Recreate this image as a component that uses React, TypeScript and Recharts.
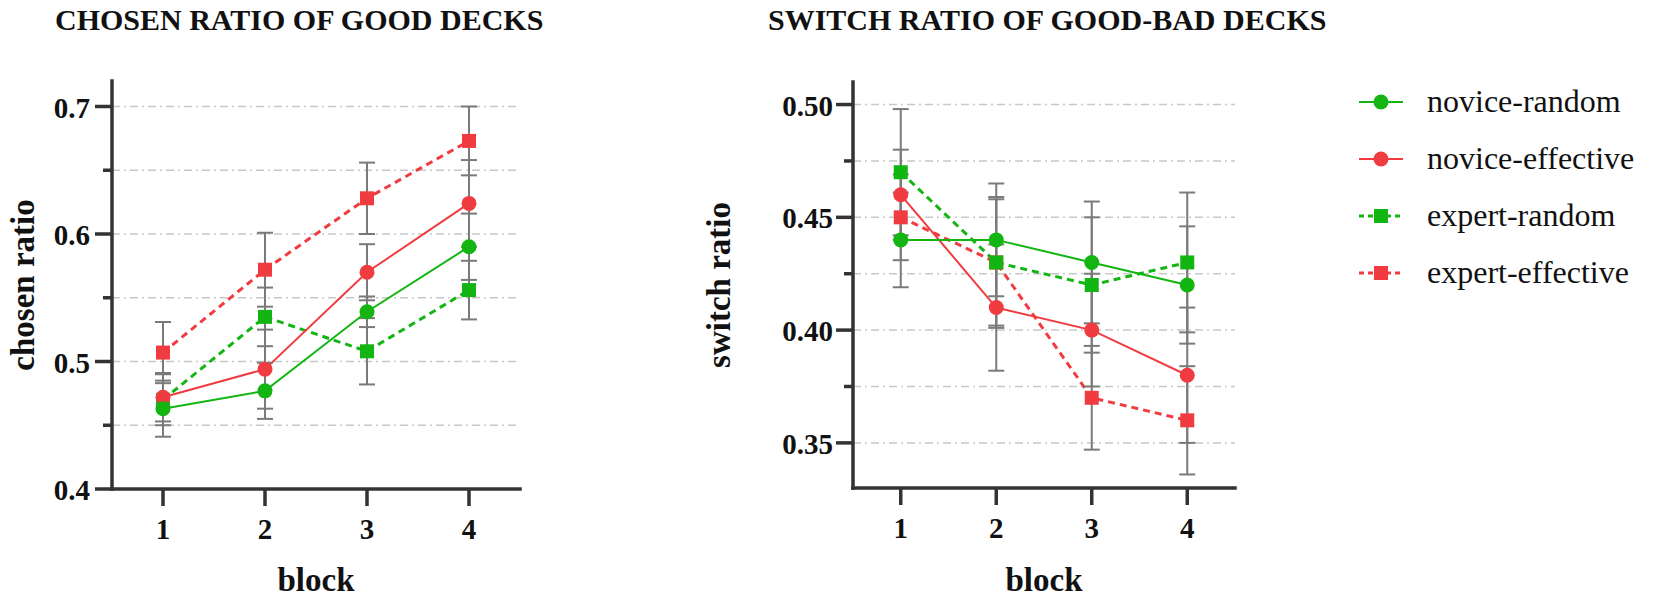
import { CartesianGrid, ErrorBar, Legend, Line, LineChart, XAxis, YAxis } from 'recharts'

const blocks = [1, 2, 3, 4]

// chosen ratio of good decks
const noviceRandomChosen = [0.463, 0.477, 0.539, 0.59]
const noviceEffectiveChosen = [0.472, 0.494, 0.57, 0.624]
const expertRandomChosen = [0.47, 0.535, 0.508, 0.556]
const expertEffectiveChosen = [0.507, 0.572, 0.628, 0.673]
const noviceRandomChosenErr = [0.022, 0.022, 0.012, 0.026]
const noviceEffectiveChosenErr = [0.019, 0.031, 0.022, 0.034]
const expertRandomChosenErr = [0.02, 0.023, 0.026, 0.023]
const expertEffectiveChosenErr = [0.024, 0.029, 0.028, 0.027]

// switch ratio of good-bad decks
const noviceRandomSwitch = [0.44, 0.44, 0.43, 0.42]
const noviceEffectiveSwitch = [0.46, 0.41, 0.4, 0.38]
const expertRandomSwitch = [0.47, 0.43, 0.42, 0.43]
const expertEffectiveSwitch = [0.45, 0.43, 0.37, 0.36]
const noviceRandomSwitchErr = [0.021, 0.025, 0.027, 0.026]
const noviceEffectiveSwitchErr = [0.02, 0.028, 0.025, 0.03]
const expertRandomSwitchErr = [0.028, 0.029, 0.03, 0.031]
const expertEffectiveSwitchErr = [0.019, 0.028, 0.023, 0.024]

const chosenTicks = [0.4, 0.45, 0.5, 0.55, 0.6, 0.65, 0.7]
const chosenMajor = [0.4, 0.5, 0.6, 0.7]
const switchTicks = [0.35, 0.375, 0.4, 0.425, 0.45, 0.475, 0.5]
const switchMajor = [0.35, 0.4, 0.45, 0.5]

const GREEN = '#12b512'
const RED = '#f03c40'
const AXIS = '#333333'
const FONT = '"Liberation Serif", "Times New Roman", serif'

const series = [
  { key: 'noviceRandom', name: 'novice-random', color: GREEN, square: false },
  { key: 'noviceEffective', name: 'novice-effective', color: RED, square: false },
  { key: 'expertRandom', name: 'expert-random', color: GREEN, square: true },
  { key: 'expertEffective', name: 'expert-effective', color: RED, square: true },
]

const chosenRows = blocks.map((block, i) => ({
  block,
  noviceRandom: noviceRandomChosen[i],
  noviceRandomErr: noviceRandomChosenErr[i],
  noviceEffective: noviceEffectiveChosen[i],
  noviceEffectiveErr: noviceEffectiveChosenErr[i],
  expertRandom: expertRandomChosen[i],
  expertRandomErr: expertRandomChosenErr[i],
  expertEffective: expertEffectiveChosen[i],
  expertEffectiveErr: expertEffectiveChosenErr[i],
}))

const switchRows = blocks.map((block, i) => ({
  block,
  noviceRandom: noviceRandomSwitch[i],
  noviceRandomErr: noviceRandomSwitchErr[i],
  noviceEffective: noviceEffectiveSwitch[i],
  noviceEffectiveErr: noviceEffectiveSwitchErr[i],
  expertRandom: expertRandomSwitch[i],
  expertRandomErr: expertRandomSwitchErr[i],
  expertEffective: expertEffectiveSwitch[i],
  expertEffectiveErr: expertEffectiveSwitchErr[i],
}))

function isMajor(value: number, majors: number[]) {
  return majors.some((m) => Math.abs(m - value) < 1e-6)
}

function YTick(props: any) {
  const { x, y, payload, majors, digits, gap } = props
  const major = isMajor(payload.value, majors)
  return (
    <g>
      <line x1={x - (major ? 17 : 9)} x2={x} y1={y} y2={y} stroke={AXIS} strokeWidth={3.5} />
      {major && (
        <text x={x - gap} y={y + 11} textAnchor="end" fontFamily={FONT} fontWeight="bold" fontSize={29} fill="#111">
          {payload.value.toFixed(digits)}
        </text>
      )}
    </g>
  )
}

function XTick(props: any) {
  const { x, y, payload } = props
  return (
    <g>
      <line x1={x} x2={x} y1={y} y2={y + 17} stroke={AXIS} strokeWidth={3.5} />
      <text x={x} y={y + 50} textAnchor="middle" fontFamily={FONT} fontWeight="bold" fontSize={29} fill="#111">
        {payload.value}
      </text>
    </g>
  )
}

function AxisTitle({ tx, ty, caption, vertical }: any) {
  return (
    <text
      x={tx}
      y={ty}
      textAnchor="middle"
      transform={vertical ? `rotate(-90 ${tx} ${ty})` : undefined}
      fontFamily={FONT}
      fontWeight="bold"
      fontSize={33}
      fill="#111"
    >
      {caption}
    </text>
  )
}

function makeDot(color: string, square: boolean) {
  return (props: any) => {
    const { cx, cy, index } = props
    if (cx == null || cy == null) return <g key={`d-${index}`} />
    return square ? (
      <rect key={`d-${index}`} x={cx - 7} y={cy - 7} width={14} height={14} fill={color} />
    ) : (
      <circle key={`d-${index}`} cx={cx} cy={cy} r={7.5} fill={color} />
    )
  }
}

function renderLines() {
  // drawn in reverse so novice-random sits on top, as in the figure
  return [...series].reverse().map((s) => (
    <Line
      key={s.key}
      type="linear"
      dataKey={s.key}
      name={s.name}
      stroke={s.color}
      strokeWidth={s.square ? 3 : 2}
      strokeDasharray={s.square ? '7 5' : undefined}
      dot={makeDot(s.color, s.square)}
      activeDot={false}
      isAnimationActive={false}
    >
      <ErrorBar dataKey={`${s.key}Err`} width={8} stroke="#7a7a7a" strokeWidth={2} isAnimationActive={false} />
    </Line>
  ))
}

function LegendList() {
  return (
    <div style={{ fontFamily: FONT }}>
      {series.map((s) => (
        <div key={s.key} style={{ display: 'flex', alignItems: 'center', height: 57 }}>
          <svg width={44} height={20} style={{ marginRight: 24 }}>
            <line
              x1={0}
              x2={44}
              y1={10}
              y2={10}
              stroke={s.color}
              strokeWidth={s.square ? 3 : 2}
              strokeDasharray={s.square ? '5 4' : undefined}
            />
            {s.square ? (
              <rect x={15} y={3} width={14} height={14} fill={s.color} />
            ) : (
              <circle cx={22} cy={10} r={7.5} fill={s.color} />
            )}
          </svg>
          <span style={{ fontSize: 32, color: '#111', whiteSpace: 'nowrap' }}>{s.name}</span>
        </div>
      ))}
    </div>
  )
}

const titleStyle = {
  position: 'absolute' as const,
  top: 5,
  fontFamily: FONT,
  fontWeight: 'bold' as const,
  fontSize: 30,
  lineHeight: '30px',
  color: '#111',
  whiteSpace: 'nowrap' as const,
}

export default function App() {
  return (
    <div style={{ position: 'absolute', left: 0, top: 0, width: 1653, height: 601, background: '#fff', overflow: 'hidden' }}>
      <div style={{ ...titleStyle, left: 55 }}>CHOSEN RATIO OF GOOD DECKS</div>
      <div style={{ ...titleStyle, left: 768 }}>SWITCH RATIO OF GOOD-BAD DECKS</div>

      <div style={{ position: 'absolute', left: 0, top: 0 }}>
        <LineChart width={560} height={601} data={chosenRows} margin={{ top: 81, right: 40, bottom: 0, left: 0 }}>
          <CartesianGrid
            horizontal
            vertical={false}
            syncWithTicks
            stroke="#c8c8c8"
            strokeWidth={1.5}
            strokeDasharray="8 4 2 4"
          />
          <XAxis
            dataKey="block"
            type="number"
            domain={[0.5, 4.5]}
            ticks={blocks}
            interval={0}
            height={112}
            tickSize={0}
            tickMargin={0}
            tickLine={false}
            axisLine={{ stroke: AXIS, strokeWidth: 3.5, strokeLinecap: 'square' }}
            tick={<XTick />}
            label={<AxisTitle tx={316} ty={591} caption="block" />}
          />
          <YAxis
            type="number"
            domain={[0.4, 0.72]}
            allowDataOverflow
            ticks={chosenTicks}
            interval={0}
            width={112}
            tickSize={0}
            tickMargin={0}
            tickLine={false}
            axisLine={{ stroke: AXIS, strokeWidth: 3.5, strokeLinecap: 'square' }}
            tick={<YTick majors={chosenMajor} digits={1} gap={22} />}
            label={<AxisTitle tx={34} ty={285} caption="chosen ratio" vertical />}
          />
          {renderLines()}
        </LineChart>
      </div>

      <div style={{ position: 'absolute', left: 640, top: 0 }}>
        <LineChart width={1013} height={601} data={switchRows} margin={{ top: 82, right: 418, bottom: 0, left: 0 }}>
          <CartesianGrid
            horizontal
            vertical={false}
            syncWithTicks
            stroke="#c8c8c8"
            strokeWidth={1.5}
            strokeDasharray="8 4 2 4"
          />
          <XAxis
            dataKey="block"
            type="number"
            domain={[0.5, 4.5]}
            ticks={blocks}
            interval={0}
            height={113}
            tickSize={0}
            tickMargin={0}
            tickLine={false}
            axisLine={{ stroke: AXIS, strokeWidth: 3.5, strokeLinecap: 'square' }}
            tick={<XTick />}
            label={<AxisTitle tx={404} ty={591} caption="block" />}
          />
          <YAxis
            type="number"
            domain={[0.33, 0.51]}
            allowDataOverflow
            ticks={switchTicks}
            interval={0}
            width={213}
            tickSize={0}
            tickMargin={0}
            tickLine={false}
            axisLine={{ stroke: AXIS, strokeWidth: 3.5, strokeLinecap: 'square' }}
            tick={<YTick majors={switchMajor} digits={2} gap={20} />}
            label={<AxisTitle tx={90} ty={285} caption="switch ratio" vertical />}
          />
          {renderLines()}
          <Legend
            layout="vertical"
            align="center"
            verticalAlign="middle"
            wrapperStyle={{ left: 719, top: 73, width: 320 }}
            content={() => <LegendList />}
          />
        </LineChart>
      </div>
    </div>
  )
}
